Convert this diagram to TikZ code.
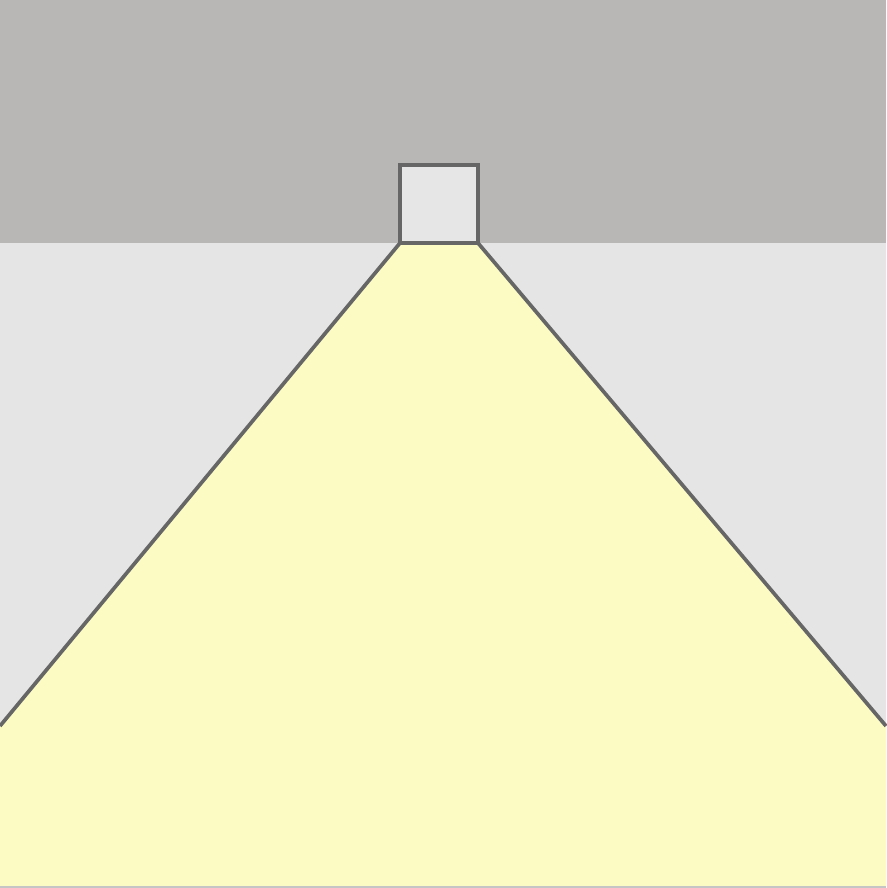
\documentclass[tikz,border=0pt]{standalone}
\usepackage{tikz}

\definecolor{ceilgray}{HTML}{B8B7B6}
\definecolor{wallgray}{HTML}{E5E5E5}
\definecolor{lampgray}{HTML}{E6E6E6}
\definecolor{edgegray}{HTML}{666666}
\definecolor{beamyellow}{HTML}{FCFBC4}

\tikzset{
  outline/.style={draw=edgegray, line width=2.1pt, line join=miter},
}

\begin{document}
\begin{tikzpicture}[x=0.02cm, y=-0.02cm]
      \useasboundingbox (0,0) rectangle (886,888);
      \fill[wallgray] (0,0) rectangle (886,888);
      \fill[ceilgray] (0,0) rectangle (886,243);

      % light beam
      \fill[beamyellow] (400,243)--(478,243)--(886,726)--(886,888)--(0,888)--(0,726)--cycle;
      \draw[outline] (0,726)--(400,243)--(478,243)--(886,726);
      \fill[ceilgray!80!white] (0,886) rectangle (886,888);

      % lamp
      \draw[outline, fill=lampgray] (400,165) rectangle (478,243);
    \end{tikzpicture}
\end{document}
